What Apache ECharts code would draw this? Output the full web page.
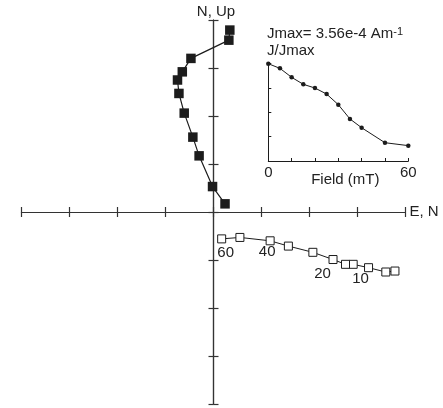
<!DOCTYPE html>
<html>
<head>
<meta charset="utf-8">
<script src="https://cdn.jsdelivr.net/npm/echarts@6/dist/echarts.min.js"></script>
<style>html,body{margin:0;padding:0;background:#fff;}#c{width:443px;height:408px;}</style>
</head>
<body>
<div id="c"></div>
<script>
// Demagnetization steps (mT)
const fields = [0, 5, 10, 15, 20, 25, 30, 35, 40, 50, 60];
// Horizontal projection (filled squares): E (x) and N (y)
const horizE = [0.34, 0.32, -0.47, -0.65, -0.75, -0.72, -0.61, -0.43, -0.30, -0.02, 0.24];
const horizN = [3.79, 3.58, 3.20, 2.92, 2.75, 2.47, 2.06, 1.56, 1.17, 0.53, 0.17];
// Vertical projection (open squares): N (x) and Up (y)
const vertN  = [3.78, 3.59, 3.23, 2.91, 2.75, 2.49, 2.07, 1.56, 1.18, 0.55, 0.17];
const vertUp = [-1.23, -1.25, -1.16, -1.09, -1.09, -0.99, -0.84, -0.71, -0.60, -0.53, -0.56];
// Inset: normalized intensity
const jRatio = [1.0, 0.952, 0.860, 0.788, 0.750, 0.688, 0.579, 0.432, 0.342, 0.188, 0.158];
// Steps labelled next to the open squares
const labeledSteps = [60, 40, 20, 10];
// Main axis ticks and inset axis labels
const mainTicks = [-4, -3, -2, -1, 0, 1, 2, 3, 4];
const insetXLabels = [0, 60];

const F = '"Liberation Sans", Arial, Helvetica, sans-serif';
const AX = '#333';
const INK = '#1c1c1c';
const labelOffsets = {60: [4, 13.5], 40: [-3, 11], 20: [-23, 10], 10: [-8, 11]};

const chart = echarts.init(document.getElementById('c'), null, {renderer: 'canvas'});

function mainX(pos, withName) {
  return {
    gridIndex: 0, type: 'value', min: mainTicks[0], max: mainTicks[mainTicks.length - 1], interval: 1,
    position: pos,
    axisLine: {show: true, onZero: true, lineStyle: {color: AX, width: 1.2}},
    axisTick: {show: true, inside: false, length: 5, lineStyle: {color: AX, width: 1.2}},
    axisLabel: {show: false}, splitLine: {show: false},
    name: withName ? 'E, N' : '', nameLocation: 'end', nameGap: 4,
    nameTextStyle: {fontSize: 15, color: '#222', fontFamily: F}
  };
}
function mainY(pos, withName) {
  return {
    gridIndex: 0, type: 'value', min: mainTicks[0], max: mainTicks[mainTicks.length - 1], interval: 1,
    position: pos,
    axisLine: {show: true, onZero: true, lineStyle: {color: AX, width: 1.2}},
    axisTick: {show: true, inside: false, length: 5, lineStyle: {color: AX, width: 1.2}},
    axisLabel: {show: false}, splitLine: {show: false},
    name: withName ? 'N, Up' : '', nameLocation: 'end', nameGap: 1,
    nameTextStyle: {fontSize: 15, color: '#222', fontFamily: F, padding: [0, 0, 0, 5]}
  };
}

const openData = fields.map((f, i) => {
  const item = {value: [vertN[i], vertUp[i]]};
  if (labeledSteps.indexOf(f) >= 0) {
    item.label = {show: true, position: 'inside', offset: labelOffsets[f], formatter: String(f),
      fontSize: 15, color: '#222', fontFamily: F};
  }
  return item;
});

const option = {
  animation: false,
  backgroundColor: '#fff',
  textStyle: {fontFamily: F},
  grid: [
    {left: 21.5, top: 20, width: 384, height: 384},
    {left: 268.3, top: 63.7, width: 140, height: 97.3}
  ],
  xAxis: [
    mainX('bottom', true),
    mainX('top', false),
    {
      gridIndex: 1, type: 'value', min: 0, max: 60, interval: 10,
      axisLine: {show: true, onZero: false, lineStyle: {color: INK, width: 1}},
      axisTick: {show: true, inside: true, length: 3, lineStyle: {color: INK, width: 1}},
      axisLabel: {show: true, margin: 4, fontSize: 15, color: '#222', fontFamily: F,
        formatter: v => insetXLabels.indexOf(v) >= 0 ? String(v) : ''},
      splitLine: {show: false},
      name: 'Field (mT)', nameLocation: 'middle', nameGap: 11, nameMoveOverlap: false,
      nameTextStyle: {fontSize: 15, color: '#222', fontFamily: F, fontWeight: 'normal', padding: [0, 0, 0, 14]}
    }
  ],
  yAxis: [
    mainY('left', true),
    mainY('right', false),
    {
      gridIndex: 1, type: 'value', min: 0, max: 1, interval: 0.25,
      axisLine: {show: true, onZero: false, lineStyle: {color: INK, width: 1}},
      axisTick: {show: true, inside: true, length: 3, lineStyle: {color: INK, width: 1}},
      axisLabel: {show: false}, splitLine: {show: false}
    }
  ],
  graphic: [
    {type: 'text', left: 267, top: 26, style: {
      text: '{m|Jmax= 3.56e-4 Am}{s|-1}',
      rich: {
        m: {fontSize: 15, fontFamily: F, fill: '#222', color: '#222'},
        s: {fontSize: 11, fontFamily: F, fill: '#222', color: '#222', verticalAlign: 'top'}
      }
    }},
    {type: 'text', left: 267, top: 43, style: {text: 'J/Jmax', font: '15px ' + F, fill: '#222'}}
  ],
  series: [
    {
      type: 'line', xAxisIndex: 0, yAxisIndex: 0, z: 3,
      data: fields.map((f, i) => [horizE[i], horizN[i]]),
      symbol: 'rect', symbolSize: 9.5, showAllSymbol: true,
      lineStyle: {color: INK, width: 1.2},
      itemStyle: {color: INK, borderColor: INK, borderWidth: 0}
    },
    {
      type: 'line', xAxisIndex: 0, yAxisIndex: 0, z: 3,
      data: openData,
      symbol: 'rect', symbolSize: 8, showAllSymbol: true,
      lineStyle: {color: INK, width: 1},
      itemStyle: {color: '#fff', borderColor: INK, borderWidth: 1},
      label: {show: false}
    },
    {
      type: 'line', xAxisIndex: 2, yAxisIndex: 2, z: 3,
      data: fields.map((f, i) => [f, jRatio[i]]),
      symbol: 'circle', symbolSize: 4.5, showAllSymbol: true,
      lineStyle: {color: INK, width: 1},
      itemStyle: {color: INK}
    }
  ]
};
chart.setOption(option);
</script>
</body>
</html>
